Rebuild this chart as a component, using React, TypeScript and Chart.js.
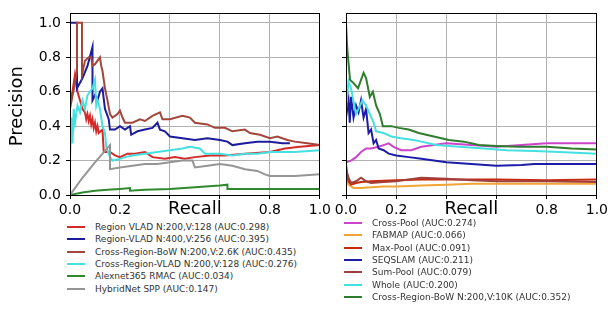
import React, { useEffect, useRef } from 'react';
import { Chart, registerables } from 'chart.js';

Chart.register(...registerables);

type Pt = [number, number];

// ---------- tick values / labels ----------
const xTickValues = [0, 0.2, 0.4, 0.6, 0.8, 1.0];
const xTickLabels = ['0.0', '0.2', '', '', '0.8', '1.0'];
const yTickValues = [0, 0.2, 0.4, 0.6, 0.8, 1.0];
const yTickLabels = ['0.0', '0.2', '0.4', '0.6', '0.8', '1.0'];
const xTitle = 'Recall';
const yTitle = 'Precision';

// ---------- left panel series (recall, precision) ----------
const regionVlad200: Pt[] = [
  [0, 0.55], [0.01, 0.6], [0.02, 0.7], [0.03, 0.6], [0.04, 0.55], [0.05, 0.5], [0.06, 0.48],
  [0.065, 0.44], [0.07, 0.47], [0.075, 0.43], [0.08, 0.46], [0.085, 0.41], [0.09, 0.44],
  [0.095, 0.39], [0.1, 0.42], [0.105, 0.37], [0.11, 0.4], [0.115, 0.36], [0.13, 0.38],
  [0.135, 0.25], [0.16, 0.25], [0.18, 0.23], [0.2, 0.22], [0.23, 0.24], [0.26, 0.24],
  [0.3, 0.25], [0.33, 0.22], [0.38, 0.21], [0.42, 0.22], [0.46, 0.21], [0.5, 0.22],
  [0.56, 0.23], [0.62, 0.23], [0.7, 0.24], [0.8, 0.25], [0.86, 0.27], [0.92, 0.28], [1.0, 0.29],
];
const regionVlad400: Pt[] = [
  [0, 1.0], [0.028, 1.0], [0.028, 0.62], [0.05, 0.68], [0.07, 0.75], [0.09, 0.86], [0.09, 0.55],
  [0.1, 0.58], [0.11, 0.55], [0.12, 0.6], [0.13, 0.62], [0.14, 0.5], [0.155, 0.44], [0.16, 0.38],
  [0.18, 0.38], [0.2, 0.4], [0.22, 0.38], [0.24, 0.4], [0.245, 0.35], [0.27, 0.37], [0.3, 0.38],
  [0.33, 0.39], [0.35, 0.42], [0.36, 0.38], [0.38, 0.37], [0.4, 0.34], [0.45, 0.33], [0.5, 0.32],
  [0.55, 0.33], [0.6, 0.32], [0.63, 0.31], [0.65, 0.29], [0.7, 0.3], [0.75, 0.31], [0.8, 0.31],
  [0.85, 0.3], [0.88, 0.3],
];
const crossRegionBow26k: Pt[] = [
  [0, 0.5], [0.02, 0.65], [0.028, 0.72], [0.028, 1.0], [0.048, 1.0], [0.048, 0.7], [0.06, 0.78],
  [0.075, 0.8], [0.085, 0.8], [0.09, 0.75], [0.1, 0.76], [0.12, 0.8], [0.125, 0.75], [0.13, 0.72],
  [0.14, 0.62], [0.15, 0.55], [0.16, 0.47], [0.17, 0.45], [0.19, 0.47], [0.2, 0.49], [0.21, 0.45],
  [0.22, 0.42], [0.25, 0.42], [0.28, 0.44], [0.3, 0.43], [0.33, 0.46], [0.36, 0.48], [0.37, 0.44],
  [0.4, 0.44], [0.45, 0.46], [0.48, 0.45], [0.5, 0.42], [0.55, 0.41], [0.58, 0.39], [0.62, 0.39],
  [0.65, 0.37], [0.7, 0.38], [0.72, 0.36], [0.76, 0.35], [0.8, 0.33], [0.83, 0.34], [0.87, 0.32],
  [0.9, 0.31], [0.95, 0.3], [1.0, 0.29],
];
const crossRegionVlad: Pt[] = [
  [0, 0.22], [0.005, 0.45], [0.01, 0.3], [0.015, 0.5], [0.02, 0.42], [0.03, 0.52], [0.04, 0.48],
  [0.05, 0.55], [0.06, 0.5], [0.07, 0.58], [0.08, 0.6], [0.09, 0.62], [0.1, 0.67], [0.105, 0.52],
  [0.11, 0.55], [0.12, 0.5], [0.13, 0.4], [0.14, 0.36], [0.145, 0.28], [0.16, 0.22], [0.17, 0.2],
  [0.2, 0.21], [0.22, 0.22], [0.25, 0.23], [0.3, 0.24], [0.35, 0.25], [0.4, 0.26], [0.45, 0.27],
  [0.48, 0.28], [0.52, 0.27], [0.54, 0.24], [0.6, 0.24], [0.65, 0.23], [0.7, 0.24], [0.75, 0.24],
  [0.8, 0.25], [0.9, 0.25], [1.0, 0.26],
];
const alexnetRmac: Pt[] = [
  [0, 0], [0.05, 0.015], [0.1, 0.025], [0.15, 0.03], [0.2, 0.035], [0.24, 0.04], [0.24, 0.025],
  [0.3, 0.03], [0.4, 0.035], [0.5, 0.045], [0.6, 0.055], [0.63, 0.06], [0.63, 0.035], [0.7, 0.035],
  [0.8, 0.035], [0.9, 0.035], [1.0, 0.035],
];
const hybridNetSpp: Pt[] = [
  [0, 0], [0.05, 0.1], [0.1, 0.19], [0.16, 0.29], [0.16, 0.15], [0.2, 0.16], [0.25, 0.17],
  [0.3, 0.18], [0.35, 0.18], [0.4, 0.19], [0.45, 0.2], [0.49, 0.2], [0.5, 0.16], [0.55, 0.17],
  [0.6, 0.18], [0.65, 0.17], [0.7, 0.15], [0.75, 0.14], [0.78, 0.12], [0.8, 0.11], [0.9, 0.11],
  [1.0, 0.12],
];

// ---------- right panel series ----------
const crossPool: Pt[] = [
  [0, 0.19], [0.02, 0.2], [0.04, 0.22], [0.06, 0.25], [0.08, 0.27], [0.1, 0.27], [0.13, 0.28],
  [0.15, 0.29], [0.17, 0.3], [0.19, 0.28], [0.22, 0.26], [0.26, 0.26], [0.3, 0.28], [0.35, 0.29],
  [0.4, 0.3], [0.5, 0.29], [0.6, 0.28], [0.7, 0.29], [0.8, 0.3], [0.9, 0.3], [1.0, 0.3],
];
const fabmap: Pt[] = [
  [0, 0.1], [0.01, 0.06], [0.03, 0.04], [0.06, 0.04], [0.1, 0.045], [0.15, 0.05], [0.2, 0.05],
  [0.3, 0.055], [0.4, 0.06], [0.5, 0.065], [0.7, 0.065], [1.0, 0.065],
];
const maxPool: Pt[] = [
  [0, 0.18], [0.005, 0.12], [0.01, 0.08], [0.02, 0.06], [0.04, 0.07], [0.06, 0.075], [0.1, 0.08],
  [0.2, 0.085], [0.3, 0.09], [0.4, 0.09], [0.6, 0.09], [0.8, 0.085], [1.0, 0.09],
];
const seqslam: Pt[] = [
  [0, 0], [0, 0.45], [0.01, 0.55], [0.015, 0.42], [0.02, 0.57], [0.03, 0.45], [0.04, 0.52],
  [0.05, 0.48], [0.06, 0.55], [0.07, 0.45], [0.08, 0.5], [0.09, 0.36], [0.1, 0.38], [0.11, 0.3],
  [0.12, 0.32], [0.13, 0.27], [0.15, 0.26], [0.17, 0.24], [0.2, 0.23], [0.25, 0.22], [0.3, 0.21],
  [0.35, 0.2], [0.4, 0.19], [0.5, 0.18], [0.6, 0.17], [0.7, 0.175], [0.75, 0.18], [0.85, 0.18],
  [1.0, 0.18],
];
const sumPool: Pt[] = [
  [0, 0.15], [0.01, 0.1], [0.02, 0.07], [0.04, 0.08], [0.06, 0.1], [0.08, 0.08], [0.1, 0.07],
  [0.15, 0.075], [0.2, 0.08], [0.3, 0.1], [0.4, 0.095], [0.5, 0.085], [0.6, 0.08], [0.8, 0.08],
  [1.0, 0.075],
];
const whole: Pt[] = [
  [0, 0.5], [0.01, 0.66], [0.02, 0.62], [0.04, 0.47], [0.05, 0.5], [0.065, 0.55], [0.08, 0.52],
  [0.095, 0.47], [0.11, 0.42], [0.12, 0.37], [0.15, 0.36], [0.18, 0.34], [0.22, 0.33], [0.27, 0.32],
  [0.3, 0.31], [0.36, 0.29], [0.45, 0.28], [0.55, 0.27], [0.64, 0.26], [0.75, 0.255], [0.85, 0.25],
  [1.0, 0.24],
];
const crossRegionBow10k: Pt[] = [
  [0, 1.0], [0.005, 0.85], [0.016, 0.67], [0.03, 0.65], [0.048, 0.62], [0.07, 0.71], [0.08, 0.68],
  [0.095, 0.57], [0.107, 0.6], [0.12, 0.52], [0.135, 0.47], [0.147, 0.4], [0.18, 0.4], [0.21, 0.39],
  [0.25, 0.38], [0.29, 0.36], [0.35, 0.34], [0.41, 0.32], [0.47, 0.31], [0.53, 0.29], [0.6, 0.285],
  [0.69, 0.28], [0.8, 0.28], [0.9, 0.27], [1.0, 0.265],
];

const leftSeries = [regionVlad200, regionVlad400, crossRegionBow26k, crossRegionVlad, alexnetRmac, hybridNetSpp];
const leftLabels = [
  'Region VLAD N:200,V:128 (AUC:0.298)',
  'Region-VLAD N:400,V:256 (AUC:0.395)',
  'Cross-Region-BoW N:200,V:2.6K (AUC:0.435)',
  'Cross-Region-VLAD N:200,V:128 (AUC:0.276)',
  'Alexnet365 RMAC (AUC:0.034)',
  'HybridNet SPP (AUC:0.147)',
];
const leftColors = ['#d42a2a', '#1c1c9c', '#a3463c', '#45e0e0', '#2f8a2f', '#959595'];

const rightSeries = [crossPool, fabmap, maxPool, seqslam, sumPool, whole, crossRegionBow10k];
const rightLabels = [
  'Cross-Pool (AUC:0.274)',
  'FABMAP (AUC:0.066)',
  'Max-Pool (AUC:0.091)',
  'SEQSLAM (AUC:0.211)',
  'Sum-Pool (AUC:0.079)',
  'Whole (AUC:0.200)',
  'Cross-Region-BoW N:200,V:10K (AUC:0.352)',
];
const rightColors = ['#cc44cc', '#f0a535', '#c8280f', '#1c1ca8', '#a0403a', '#45e0e0', '#2e7d2e'];

const FONT = 'DejaVu Sans';

const align = (p: number) => Math.round(p - 0.5) + 0.5;

const framePlugin = {
  id: 'frame',
  afterDraw(chart: any, _args: any, opts: any) {
    const { ctx, chartArea: a } = chart;
    ctx.save();
    ctx.strokeStyle = '#000';
    ctx.lineWidth = 1;
    const l = align(a.left), r = align(a.right), t = align(a.top), b = align(a.bottom);
    ctx.strokeRect(l, t, r - l, b - t);
    ctx.fillStyle = '#000';
    ctx.font = `18px "${FONT}"`;
    ctx.textAlign = 'center';
    ctx.textBaseline = 'middle';
    ctx.fillText(xTitle, (a.left + a.right) / 2, a.bottom + 14);
    if (opts && opts.ylabel) {
      ctx.translate(17, (a.top + a.bottom) / 2 + 2);
      ctx.rotate(-Math.PI / 2);
      ctx.fillText(opts.ylabel, 0, 0);
    }
    ctx.restore();
  },
};

function makeConfig(series: Pt[][], colors: string[], yAxisWidth: number, padRight: number, showY: boolean, ylabel: string | null): any {
  return {
    type: 'line',
    data: {
      datasets: series.map((s, i) => ({
        data: s.map(([x, y]) => ({ x, y })),
        borderColor: colors[i],
        backgroundColor: colors[i],
        borderWidth: 2,
        pointRadius: 0,
        fill: false,
        tension: 0,
        order: -i,
      })),
    },
    options: {
      animation: false,
      responsive: false,
      maintainAspectRatio: false,
      events: [],
      layout: { padding: { top: 5, right: padRight, left: 0, bottom: 0 } },
      plugins: { legend: { display: false }, tooltip: { enabled: false }, frame: { ylabel } },
      scales: {
        x: {
          type: 'linear',
          min: 0,
          max: 1,
          afterBuildTicks: (s: any) => { s.ticks = xTickValues.map((v) => ({ value: v })); },
          afterFit: (s: any) => { s.height = 25; },
          ticks: {
            callback: (_v: any, i: number) => xTickLabels[i],
            font: { family: FONT, size: 14 },
            color: '#000',
            padding: 3,
            maxRotation: 0,
            autoSkip: false,
          },
          grid: { color: '#b0b0b0', tickColor: '#000', tickLength: 4, lineWidth: 1 },
          border: { color: '#000', width: 1 },
        },
        y: {
          type: 'linear',
          min: 0,
          max: 1.055,
          afterBuildTicks: (s: any) => { s.ticks = yTickValues.map((v) => ({ value: v })); },
          afterFit: (s: any) => { s.width = yAxisWidth; },
          ticks: {
            callback: (_v: any, i: number) => (showY ? yTickLabels[i] : ''),
            font: { family: FONT, size: 14 },
            color: '#000',
            padding: 5,
            autoSkip: false,
          },
          grid: { color: '#b0b0b0', tickColor: '#000', tickLength: 4, lineWidth: 1 },
          border: { color: '#000', width: 1 },
        },
      },
    },
    plugins: [framePlugin],
  };
}

function Legend({ labels, colors, left, top, step, textLeft }: { labels: string[]; colors: string[]; left: number; top: number; step: number; textLeft: number }) {
  return (
    <>
      {labels.map((lab, i) => (
        <div key={i} style={{ position: 'absolute', left, top: top + i * step - 7, height: 14, width: 300 }}>
          <div style={{ position: 'absolute', left: 0, top: 6, width: 18, height: 2, background: colors[i] }} />
          <div style={{ position: 'absolute', left: textLeft, top: 0, lineHeight: '14px', fontFamily: FONT, fontSize: 9, color: '#333', whiteSpace: 'nowrap' }}>{lab}</div>
        </div>
      ))}
    </>
  );
}

export default function App() {
  const leftRef = useRef<HTMLCanvasElement>(null);
  const rightRef = useRef<HTMLCanvasElement>(null);

  useEffect(() => {
    const c1 = new Chart(leftRef.current!, makeConfig(leftSeries, leftColors, 70, 12, true, yTitle));
    const c2 = new Chart(rightRef.current!, makeConfig(rightSeries, rightColors, 16, 13, false, null));
    return () => { c1.destroy(); c2.destroy(); };
  }, []);

  return (
    <div style={{ position: 'fixed', left: 0, top: 0, width: 611, height: 312, background: '#fff', overflow: 'hidden' }}>
      <canvas ref={leftRef} width={334} height={220} style={{ position: 'absolute', left: 0, top: 0, width: 334, height: 220 }} />
      <canvas ref={rightRef} width={281} height={220} style={{ position: 'absolute', left: 330, top: 0, width: 281, height: 220 }} />
      <Legend labels={leftLabels} colors={leftColors} left={67} top={227} step={12.3} textLeft={28} />
      <Legend labels={rightLabels} colors={rightColors} left={344} top={223} step={12.3} textLeft={28} />
    </div>
  );
}
